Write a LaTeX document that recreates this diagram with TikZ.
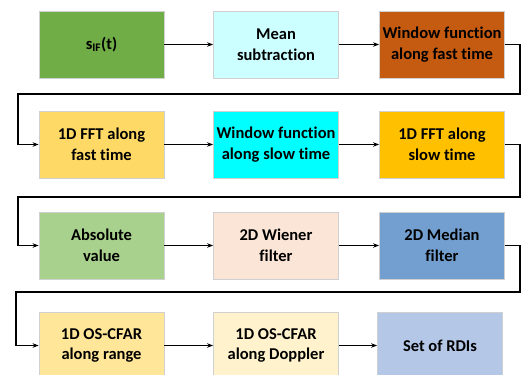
\documentclass[tikz,border=0pt]{standalone}
\usepackage{fontspec}
\setmainfont[Ligatures=NoCommon]{Carlito}
\usetikzlibrary{arrows.meta}
\definecolor{cgreen}{HTML}{70AD47}
\definecolor{clcyan}{HTML}{CCFFFF}
\definecolor{corange}{HTML}{C55A11}
\definecolor{cyel}{HTML}{FFD966}
\definecolor{ccyan}{HTML}{00FFFF}
\definecolor{cgold}{HTML}{FFC000}
\definecolor{clgreen}{HTML}{A9D18E}
\definecolor{cpeach}{HTML}{FBE5D6}
\definecolor{cblue}{HTML}{729FCF}
\definecolor{cyel2}{HTML}{FFE699}
\definecolor{cyel3}{HTML}{FFF2CC}
\definecolor{clblue}{HTML}{B4C7E7}
\definecolor{cborder}{HTML}{D0D0D0}
\begin{document}
\begin{tikzpicture}[x=1pt,y=1pt,
  blk/.style={draw=cborder, line width=0.8pt, minimum width=125pt, minimum height=67pt,
    inner sep=0pt, align=center, font=\fontsize{16.5}{20.5}\selectfont\bfseries, text=black},
  conn/.style={line width=1.4pt, -{Stealth[length=6pt,width=4.5pt]}},
  link/.style={line width=1.4pt}]
\useasboundingbox (0,0) rectangle (531,375);
\clip (0,0) rectangle (531,375);
% rows: centers y (from top) 44.5, 144.5, 245.5, 345.5
\node[blk, fill=cgreen]  (a1) at (101.5,330.5) {s\textsubscript{IF}(t)};
\node[blk, fill=clcyan]  (a2) at (276,330.5) {Mean\\subtraction};
\node[blk, fill=corange] (a3) at (442,330.5) {Window function\\along fast time};
\node[blk, fill=cyel]    (b1) at (101.5,230.5) {1D FFT along\\fast time};
\node[blk, fill=ccyan]   (b2) at (276,230.5) {Window function\\along slow time};
\node[blk, fill=cgold]   (b3) at (442,230.5) {1D FFT along\\slow time};
\node[blk, fill=clgreen] (c1) at (101.5,129.5) {Absolute\\value};
\node[blk, fill=cpeach]  (c2) at (276,129.5) {2D Wiener\\filter};
\node[blk, fill=cblue]   (c3) at (442,129.5) {2D Median\\filter};
\node[blk, fill=cyel2]   (d1) at (101.5,29.5) {1D OS-CFAR\\along range};
\node[blk, fill=cyel3]   (d2) at (276,29.5) {1D OS-CFAR\\along Doppler};
\node[blk, fill=clblue]  (d3) at (440,29.5) {Set of RDIs};
\draw[conn] (a1) -- (a2);
\draw[conn] (a2) -- (a3);
\draw[conn] (b1) -- (b2);
\draw[conn] (b2) -- (b3);
\draw[conn] (c1) -- (c2);
\draw[conn] (c2) -- (c3);
\draw[conn] (d1) -- (d2);
\draw[conn] (d2) -- (d3);
\coordinate (t1) at (520,281);
\coordinate (t2) at (520,178);
\coordinate (t3) at (520,83);
\draw[conn] (a3.east) -| (t1) -- (18,281) |- (b1.west);
\draw[conn] (b3.east) -| (t2) -- (18,178) |- (c1.west);
\draw[conn] (c3.east) -| (t3) -- (16,83) |- (d1.west);
\end{tikzpicture}
\end{document}
